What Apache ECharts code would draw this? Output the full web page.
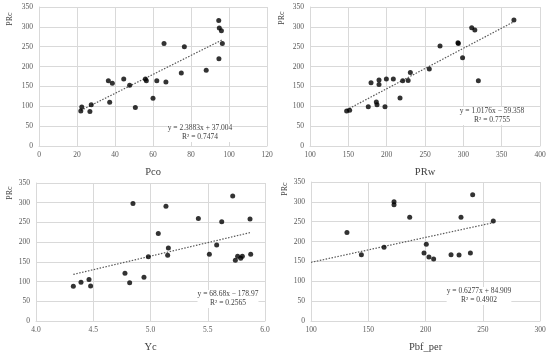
<!DOCTYPE html>
<html><head><meta charset="utf-8">
<script src="https://cdn.jsdelivr.net/npm/echarts@6/dist/echarts.min.js"></script>
<style>html,body{margin:0;padding:0;background:#fff}#c{width:550px;height:354px}</style>
</head><body><div id="c"></div>
<script>
// Panel 1: Pco vs PRc
const pcoX = [22,22.5,27.5,26.8,36.5,38.6,37.2,44.6,47.7,50.7,56,56.5,60,62,65.8,66.8,74.9,76.5,88,94.6,94.9,96,94.7,96.5];
const pcoY = [88,98,104,87,164,158,110,169,153,97,169,164,120,164,258,161,184,250,191,316,297,290,220,258];
// Panel 2: PRw vs PRc
const prwX = [147.8,151.7,176,179.6,190,190,186.5,187.4,197.8,199.6,208.7,217.4,220.9,228,230.9,255.6,269.6,293,293.5,299,310.9,315,319.6,366];
const prwY = [88,90,99,159,166,155,111,104,99,169,169,121,164,165,185,194,252,260,258,222,298,292,164,317];
// Panel 3: Yc vs PRc
const ycX = [4.326,4.393,4.463,4.477,4.777,4.818,4.847,4.943,4.981,5.068,5.135,5.150,5.156,5.418,5.514,5.578,5.622,5.718,5.741,5.761,5.788,5.802,5.869,5.875];
const ycY = [88,98,105,89,121,97,298,111,163,222,291,167,185,260,169,193,252,317,154,164,159,164,259,169];
// Panel 4: Pbf_per vs PRc
const pbfX = [131.4,144,163.8,172.5,172.5,186.2,198.7,200.7,203,207.1,222.3,229.3,231,239.2,241.2,259.2];
const pbfY = [223,167,186,300,293,261,171,193,161,156,167,166,261,171,318,252];
// Trendline coefficients [slope, intercept] and x extents
const trend = [[2.3883,37.004],[1.0176,-59.358],[68.68,-178.97],[0.6277,84.909]];
const trendX = [[22,96.5],[147.8,366],[4.326,5.875],[100,259.2]];
const eqText = ['y = 2.3883x + 37.004','y = 1.0176x − 59.358','y = 68.68x − 178.97','y = 0.6277x + 84.909'];
const r2Text = ['R² = 0.7474','R² = 0.7755','R² = 0.2565','R² = 0.4902'];
const xNames = ['Pco','PRw','Yc','Pbf_per'];
const xRanges = [[0,120,20],[100,400,50],[4,6,0.5],[100,300,50]];
const yTicks = [0,350,50];

const FONT = 'Liberation Serif';
const grids = [
  {left:39,top:7,width:228,height:139},
  {left:310,top:7,width:230,height:139},
  {left:36,top:183,width:229,height:139},
  {left:311,top:182,width:229,height:139}
];
const xs = [pcoX,prwX,ycX,pbfX], ys=[pcoY,prwY,ycY,pbfY];
const grid=[],xAxis=[],yAxis=[],series=[],graphic=[];
const eqPos = [[200,124],[492,107],[228,290],[479,287]];
const yNamePos = [[10,19],[282,18],[10,193],[285,189]];
for(let i=0;i<4;i++){
  grid.push(Object.assign({containLabel:false},grids[i]));
  xAxis.push({type:'value',gridIndex:i,min:xRanges[i][0],max:xRanges[i][1],interval:xRanges[i][2],
    name:xNames[i],nameLocation:'middle',nameGap:21,nameTextStyle:{fontFamily:FONT,fontSize:10.5,color:'#404040'},
    axisLine:{lineStyle:{color:'#d9d9d9'}},axisTick:{show:false},
    axisLabel:{fontFamily:FONT,fontSize:7.5,color:'#595959',margin:5,formatter:i===2?(v=>v.toFixed(1)):(v=>String(v))},
    splitLine:{show:true,lineStyle:{color:'#d9d9d9',width:1}}});
  yAxis.push({type:'value',gridIndex:i,min:yTicks[0],max:yTicks[1],interval:yTicks[2],
    axisLine:{show:true,lineStyle:{color:'#d9d9d9'}},axisTick:{show:false},
    axisLabel:{fontFamily:FONT,fontSize:7.5,color:'#595959',margin:6},
    splitLine:{show:true,lineStyle:{color:'#d9d9d9',width:1}}});
  series.push({type:'scatter',xAxisIndex:i,yAxisIndex:i,symbolSize:5,itemStyle:{color:'#000'},
    data:xs[i].map((x,k)=>[x,ys[i][k]]),z:3});
  const [m,b]=trend[i];
  series.push({type:'line',xAxisIndex:i,yAxisIndex:i,symbol:'none',silent:true,
    lineStyle:{color:'#595959',width:1.2,type:[1.5,1.5]},
    data:trendX[i].map(x=>[x,m*x+b]),z:2});
  graphic.push({type:'text',x:eqPos[i][0],y:eqPos[i][1],z:10,style:{text:eqText[i]+'\n'+r2Text[i],font:'7.5px "'+FONT+'"',fill:'#404040',align:'center',verticalAlign:'top',lineHeight:9,backgroundColor:'#fff'}});
  graphic.push({type:'text',x:yNamePos[i][0],y:yNamePos[i][1],rotation:Math.PI/2,style:{text:'PRc',font:'8px "'+FONT+'"',fill:'#404040',align:'center',verticalAlign:'middle'}});
}
const chart=echarts.init(document.getElementById('c'),null,{renderer:'canvas'});
chart.setOption({animation:false,grid,xAxis,yAxis,series,graphic});
</script></body></html>
